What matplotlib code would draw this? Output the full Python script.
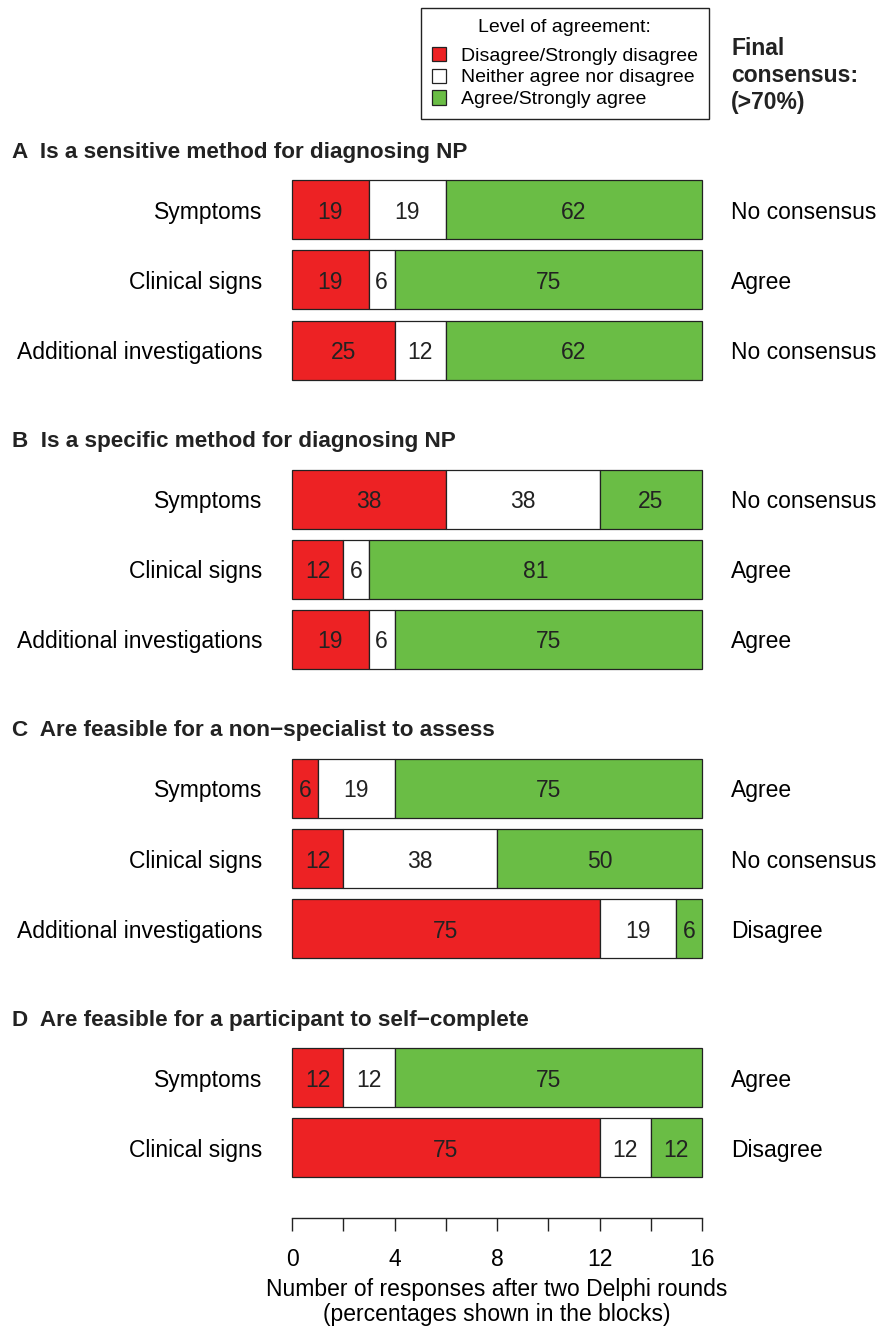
import matplotlib
matplotlib.use("Agg")
import matplotlib.pyplot as plt
from matplotlib.patches import Patch
from matplotlib.transforms import blended_transform_factory

plt.rcParams["font.family"] = ["Liberation Sans", "DejaVu Sans"]

TOTAL = 16
levels = ["Disagree/Strongly disagree", "Neither agree nor disagree", "Agree/Strongly agree"]
colors = ["#ed2224", "#ffffff", "#6abd45"]

panel_titles = [
    "A  Is a sensitive method for diagnosing NP",
    "B  Is a specific method for diagnosing NP",
    "C  Are feasible for a non\u2212specialist to assess",
    "D  Are feasible for a participant to self\u2212complete",
]
row_labels = [
    ["Symptoms", "Clinical signs", "Additional investigations"],
    ["Symptoms", "Clinical signs", "Additional investigations"],
    ["Symptoms", "Clinical signs", "Additional investigations"],
    ["Symptoms", "Clinical signs"],
]
# response counts out of 16: disagree, neither, agree
disagree = [[3, 3, 4], [6, 2, 3], [1, 2, 12], [2, 12]]
neither = [[3, 1, 2], [6, 1, 1], [3, 6, 3], [2, 2]]
agree = [[10, 12, 10], [4, 13, 12], [12, 8, 1], [12, 2]]
consensus = [
    ["No consensus", "Agree", "No consensus"],
    ["No consensus", "Agree", "Agree"],
    ["Agree", "No consensus", "Disagree"],
    ["Agree", "Disagree"],
]

W, H, DPI = 880, 1327, 100
FS = 16.5
INK = "#222222"
fig = plt.figure(figsize=(W / DPI, H / DPI), dpi=DPI)

# row layout (in row units)
GAP = 1.12
ypos, ylabels, yright, title_y = [], [], [], []
y = 0.0
for g, labs in enumerate(row_labels):
    title_y.append(y - 0.82)
    for i, lab in enumerate(labs):
        ypos.append(y)
        ylabels.append(lab)
        yright.append(consensus[g][i])
        y += 1
    y += GAP
axis_y = ypos[-1] + 1.0
top_y = -1.136

ax_left, ax_right = 292 / W, 702 / W
ax_bottom = (H - 1218) / H
ax_top = (H - 130) / H
ax = fig.add_axes([ax_left, ax_bottom, ax_right - ax_left, ax_top - ax_bottom])

k = 0
for g in range(len(row_labels)):
    for i in range(len(row_labels[g])):
        vals = [disagree[g][i], neither[g][i], agree[g][i]]
        left = 0
        for v, c in zip(vals, colors):
            ax.barh(ypos[k], v, left=left, height=0.84, color=c,
                    edgecolor=INK, linewidth=0.9, clip_on=False)
            ax.text(left + v / 2, ypos[k], f"{round(v / TOTAL * 100)}",
                    ha="center", va="center_baseline", fontsize=FS, color=INK)
            left += v
        k += 1

ax.set_xlim(0, TOTAL)
ax.set_ylim(axis_y, top_y)
ax.set_xticks(range(0, TOTAL + 1, 2))
ax.set_xticklabels([str(t) if t % 4 == 0 else "" for t in range(0, TOTAL + 1, 2)])
ax.tick_params(axis="x", length=9.4, width=1.0, pad=12.5, labelsize=FS, color=INK)
ax.set_yticks(ypos)
ax.set_yticklabels(ylabels)
ax.tick_params(axis="y", length=0, pad=21.5, labelsize=FS)
for s in ["top", "left", "right"]:
    ax.spines[s].set_visible(False)
ax.spines["bottom"].set_linewidth(1.0)
ax.spines["bottom"].set_color(INK)
ax.set_xlabel("Number of responses after two Delphi rounds\n(percentages shown in the blocks)",
              fontsize=FS, labelpad=4.5, linespacing=1.12)

ax2 = ax.twinx()
ax2.set_ylim(axis_y, top_y)
ax2.set_yticks(ypos)
ax2.set_yticklabels(yright)
ax2.tick_params(axis="y", length=0, pad=21, labelsize=FS)
for s in ax2.spines.values():
    s.set_visible(False)

tr = blended_transform_factory(fig.transFigure, ax.transData)
for t, ty in zip(panel_titles, title_y):
    ax.text(12 / W, ty, t, transform=tr, ha="left", va="center",
            fontsize=16.2, fontweight="bold", color=INK)

fig.text(731 / W, 1 - 75.5 / H, "Final\nconsensus:\n(>70%)", ha="left", va="center",
         fontsize=FS, fontweight="bold", linespacing=1.24, color=INK)

handles = [Patch(facecolor=c, edgecolor=INK, linewidth=0.9) for c in colors]
leg = fig.legend(handles, levels, title="Level of agreement:", loc="upper left",
                 bbox_to_anchor=(421 / W, 1 - 8 / H), fontsize=14, title_fontsize=14,
                 frameon=True, fancybox=False, edgecolor=INK, framealpha=1,
                 handlelength=0.75, handleheight=0.75, handletextpad=0.75,
                 labelspacing=0.2, borderpad=0.55, borderaxespad=0)
leg.get_frame().set_linewidth(1.0)
leg._legend_box.sep = 8  # a bit more room under the legend title

fig.savefig("out.png", dpi=DPI)
